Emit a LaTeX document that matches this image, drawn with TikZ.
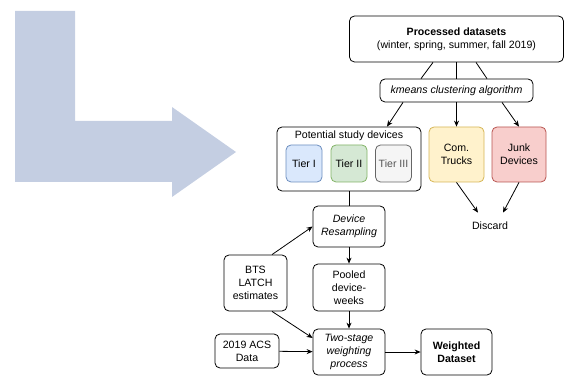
\documentclass[tikz,border=0pt]{standalone}
\usepackage{fontspec}
\setmainfont{Liberation Sans}
\usetikzlibrary{arrows.meta}

\definecolor{bigarrow}{HTML}{C4CEE2}
\definecolor{blueF}{HTML}{DAE8FC}
\definecolor{blueD}{HTML}{6C8EBF}
\definecolor{greenF}{HTML}{D5E8D4}
\definecolor{greenD}{HTML}{82B366}
\definecolor{grayF}{HTML}{F5F5F5}
\definecolor{grayD}{HTML}{666666}
\definecolor{grayT}{HTML}{555555}
\definecolor{yellowF}{HTML}{FFF2CC}
\definecolor{yellowD}{HTML}{D6B656}
\definecolor{redF}{HTML}{F8CECC}
\definecolor{redD}{HTML}{B85450}

\begin{document}
\begin{tikzpicture}[x=1pt, y=-1pt, font=\fontsize{10.6}{12.8}\selectfont, line width=0.8pt,
  box/.style={draw, rounded corners=5pt, align=center, inner sep=1pt},
  tier/.style={box, minimum width=36pt, minimum height=37pt},
  arr/.style={-{Stealth[length=6pt,width=5pt]}}]
  \useasboundingbox (0,0) rectangle (565,382);

  % big arrow in the background
  \fill[bigarrow] (15,11) -- (75,11) -- (75,121) -- (172,121) -- (172,107)
    -- (236,152) -- (172,197) -- (172,182) -- (15,182) -- cycle;

  % top part
  \node[box, minimum width=214pt, minimum height=46pt] (proc) at (456.5,39)
    {\textbf{Processed datasets}\\(winter, spring, summer, fall 2019)};
  \node[box, minimum width=153pt, minimum height=23pt] (kmeans) at (456.5,90.5)
    {\textit{kmeans clustering algorithm}};

  % device groups
  \node[box, minimum width=144pt, minimum height=64pt] (pot) at (349,159) {};
  \node (potlabel) at (349,136) {Potential study devices};
  \node[tier, fill=blueF, draw=blueD] (tierA) at (304,163.5) {Tier I};
  \node[tier, fill=greenF, draw=greenD] (tierB) at (349,163.5) {Tier II};
  \node[tier, fill=grayF, draw=grayD, text=grayT] (tierC) at (393.5,163.5) {Tier III};
  \node[box, fill=yellowF, draw=yellowD, minimum width=55pt, minimum height=55pt] (trucks)
    at (456.5,154.5) {Com.\\Trucks};
  \node[box, fill=redF, draw=redD, minimum width=54pt, minimum height=55pt] (junk)
    at (519,154.5) {Junk\\Devices};
  \node[minimum height=26pt] (discard) at (490,226) {Discard};

  % weighting part
  \node[box, minimum width=72pt, minimum height=41pt] (resamp) at (349,226.5)
    {\textit{Device}\\\textit{Resampling}};
  \node[box, minimum width=72pt, minimum height=47pt] (pooled) at (349,287.5)
    {Pooled\\device-\\weeks};
  \node[box, minimum width=72pt, minimum height=46pt] (twostage) at (349,352)
    {\textit{Two-stage}\\\textit{weighting}\\\textit{process}};
  \node[box, minimum width=63pt, minimum height=56pt] (bts) at (255.5,283)
    {BTS\\LATCH\\estimates};
  \node[box, minimum width=64pt, minimum height=34pt] (acs) at (247,351)
    {2019 ACS\\Data};
  \node[box, minimum width=71pt, minimum height=46pt] (weighted) at (456.5,352)
    {\textbf{Weighted}\\\textbf{Dataset}};

  % connectors
  \draw ([xshift=-23.5pt]proc.south) -- ([xshift=-35.5pt]kmeans.north);
  \draw (proc.south) -- (kmeans.north);
  \draw ([xshift=19.5pt]proc.south) -- ([xshift=30.5pt]kmeans.north);
  \draw[arr] ([xshift=-53.5pt]kmeans.south) -- ([xshift=38pt]pot.north);
  \draw[arr] (kmeans.south) -- (trucks.north);
  \draw[arr] ([xshift=45.5pt]kmeans.south) -- (junk.north);
  \draw[arr] (trucks.south) -- ([xshift=-12pt]discard.north);
  \draw[arr] (junk.south) -- ([xshift=13pt]discard.north);
  \draw (pot.south) -- (resamp.north);
  \draw[arr] (resamp) -- (pooled);
  \draw[arr] (pooled) -- (twostage);
  \draw[arr] ([xshift=16.5pt]bts.north) -- (resamp.west);
  \draw[arr] ([xshift=16.5pt]bts.south) -- ([yshift=14pt]twostage.west);
  \draw[arr] (acs) -- (twostage);
  \draw[arr] (twostage) -- (weighted);
\end{tikzpicture}
\end{document}
